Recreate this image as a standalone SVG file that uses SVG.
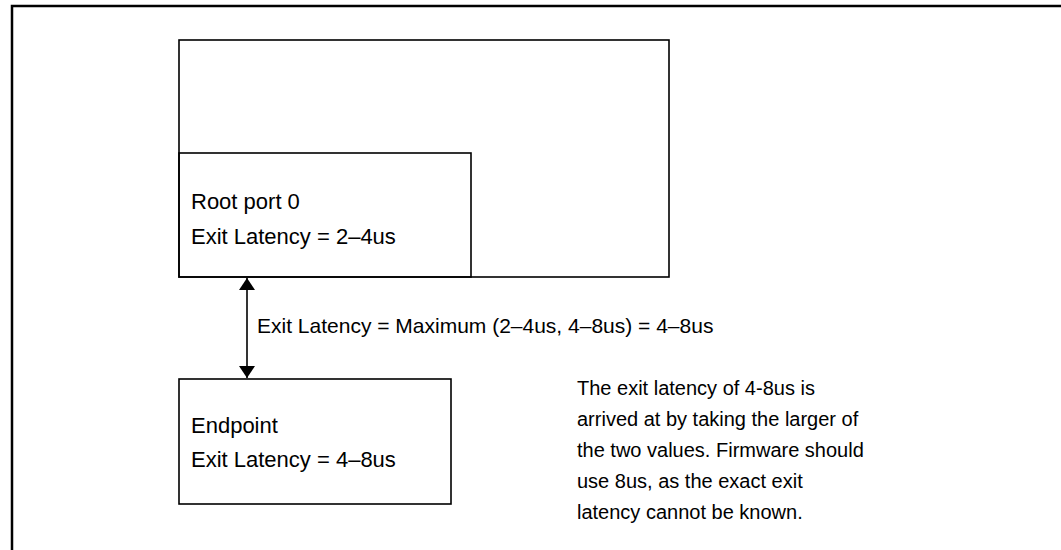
<svg xmlns="http://www.w3.org/2000/svg" width="1061" height="550" viewBox="0 0 1061 550">
<style>
.box{fill:none;stroke:#000;stroke-width:1.6}
.t{font-family:"Liberation Sans",Arial,sans-serif;font-size:21px;fill:#000}
.b{font-size:22px}
.n{font-size:20px}
</style>
<defs>
<marker id="ah" viewBox="0 0 12 16" refX="12" refY="8" markerWidth="12" markerHeight="16" markerUnits="userSpaceOnUse" orient="auto-start-reverse">
<path d="M0,0 L12,8 L0,16 Z" fill="#000"/>
</marker>
</defs>
<rect width="1061" height="550" fill="#fff"/>
<path d="M12,552 V6 H1063" fill="none" stroke="#000" stroke-width="2.5"/>
<g id="host">
<rect class="box" x="179" y="40" width="490" height="237"/>
</g>
<g id="rootport">
<rect class="box" x="179" y="153" width="292" height="124"/>
<text class="t b" x="191" y="209">Root port 0</text>
<text class="t b" x="191" y="244">Exit Latency = 2–4us</text>
</g>
<g id="endpoint">
<rect class="box" x="179" y="379" width="272" height="125"/>
<text class="t b" x="191" y="433">Endpoint</text>
<text class="t b" x="191" y="467">Exit Latency = 4–8us</text>
</g>
<g id="connectors">
<line x1="247" y1="278" x2="247" y2="378" stroke="#000" stroke-width="1.6" marker-start="url(#ah)" marker-end="url(#ah)"/>
<text class="t" x="257" y="333">Exit Latency = Maximum (2–4us, 4–8us) = 4–8us</text>
</g>
<g id="note">
<text class="t n" x="577" y="395">The exit latency of 4-8us is</text>
<text class="t n" x="577" y="426">arrived at by taking the larger of</text>
<text class="t n" x="577" y="457">the two values. Firmware should</text>
<text class="t n" x="577" y="488">use 8us, as the exact exit</text>
<text class="t n" x="577" y="519">latency cannot be known.</text>
</g>
</svg>
